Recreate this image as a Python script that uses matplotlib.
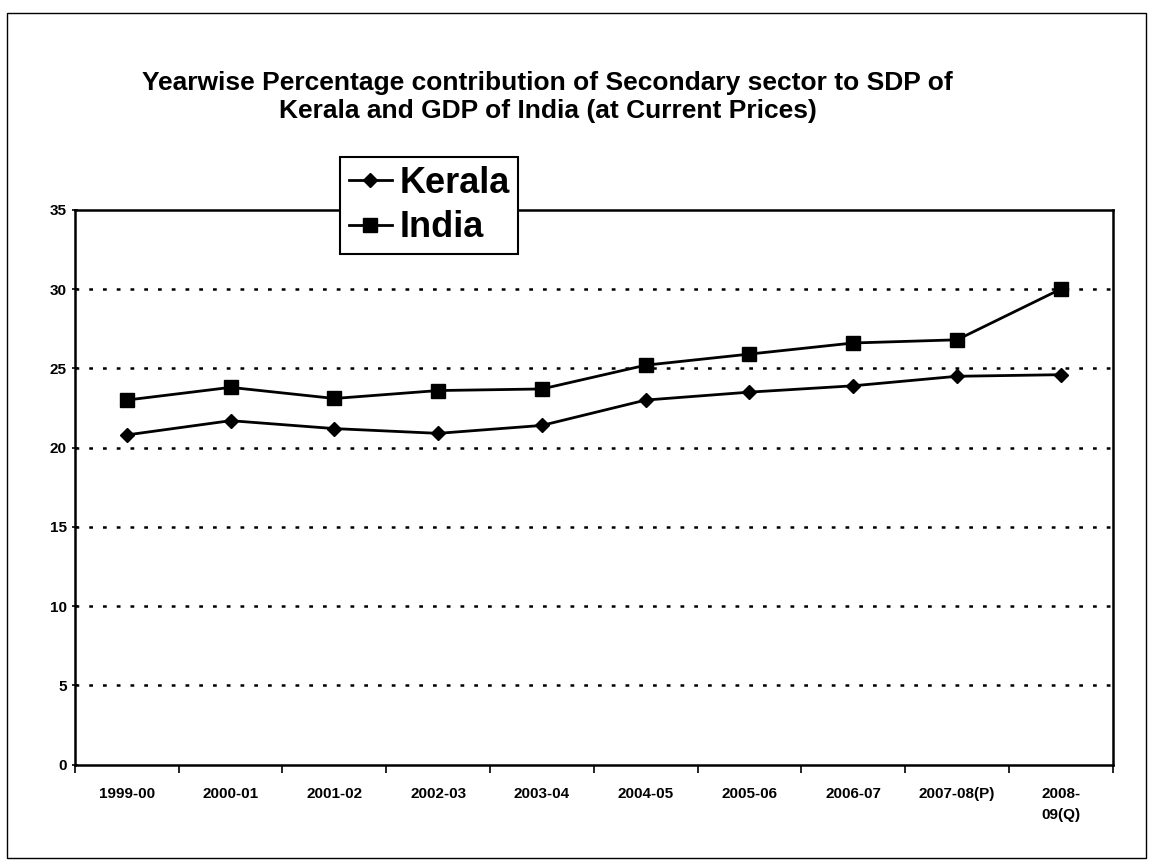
import matplotlib
matplotlib.use("Agg")
import matplotlib.pyplot as plt
from matplotlib.patches import Rectangle

years = ["1999-00", "2000-01", "2001-02", "2002-03", "2003-04", "2004-05",
         "2005-06", "2006-07", "2007-08(P)", "2008-\n09(Q)"]
kerala = [20.8, 21.7, 21.2, 20.9, 21.4, 23.0, 23.5, 23.9, 24.5, 24.6]
india = [23.0, 23.8, 23.1, 23.6, 23.7, 25.2, 25.9, 26.6, 26.8, 30.0]
yticks = [0, 5, 10, 15, 20, 25, 30, 35]

plt.rcParams['font.family'] = ['Liberation Sans', 'DejaVu Sans']

fig = plt.figure(figsize=(11.53, 8.67), dpi=100)
fig.patches.append(Rectangle((0.006, 0.01), 0.988, 0.975, transform=fig.transFigure,
                             fill=False, edgecolor='black', linewidth=1.0))
ax = fig.add_axes([0.065, 0.118, 0.9, 0.64])

x = list(range(len(years)))
ax.plot(x, kerala, color='black', linewidth=2, marker='D', markersize=7, label='Kerala')
ax.plot(x, india, color='black', linewidth=2, marker='s', markersize=10, label='India')

ax.set_xlim(-0.5, len(years) - 0.5)
ax.set_ylim(0, 35)
ax.set_yticks(yticks)
ax.set_yticklabels([str(v) for v in yticks], fontsize=11, fontweight='bold')
ax.set_xticks(x)
ax.set_xticklabels(years, fontsize=11, fontweight='bold', linespacing=1.6)
ax.tick_params(axis='x', length=0, pad=16)
ax.set_xticks([i - 0.5 for i in range(len(years) + 1)], minor=True)
ax.tick_params(axis='x', which='minor', length=6, width=1.2, direction='out')
ax.tick_params(axis='y', length=5, width=1.2, direction='inout')

for v in yticks[1:-1]:
    ax.axhline(v, color='black', linestyle=(0, (1.5, 4)), linewidth=1.8)

for s in ax.spines.values():
    s.set_linewidth(1.8)
    s.set_color('black')

fig.text(0.475, 0.888, "Yearwise Percentage contribution of Secondary sector to SDP of\nKerala and GDP of India (at Current Prices)",
         ha='center', va='center', fontsize=19, fontweight='bold', linespacing=1.25)

leg = ax.legend(loc='upper left', bbox_to_anchor=(0.255, 1.095), frameon=True, fancybox=False,
                edgecolor='black', prop={'size': 26, 'weight': 'bold'}, handlelength=1.2,
                handletextpad=0.2, borderpad=0.25, labelspacing=0.25, borderaxespad=0)
leg.get_frame().set_linewidth(1.5)
leg.get_frame().set_alpha(1)

fig.savefig("out.png", dpi=100)
